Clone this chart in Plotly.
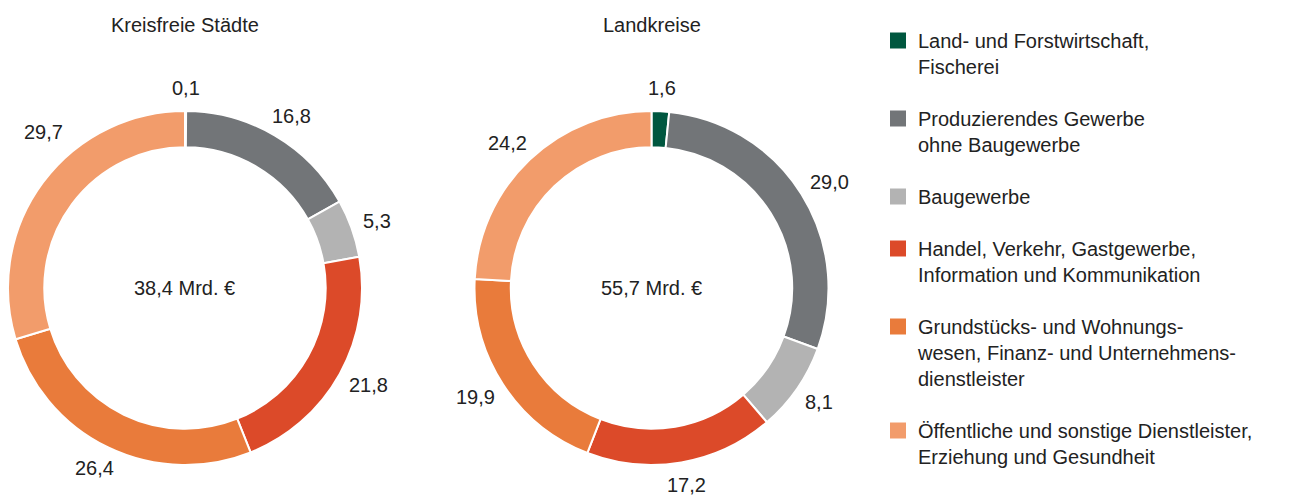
import math
import plotly.graph_objects as go

# ---- data ----
categories = [
    "Land- und Forstwirtschaft,<br>Fischerei",
    "Produzierendes Gewerbe<br>ohne Baugewerbe",
    "Baugewerbe",
    "Handel, Verkehr, Gastgewerbe,<br>Information und Kommunikation",
    "Grundstücks- und Wohnungs-<br>wesen, Finanz- und Unternehmens-<br>dienstleister",
    "Öffentliche und sonstige Dienstleister,<br>Erziehung und Gesundheit",
]
kreisfreie_staedte = [0.1, 16.8, 5.3, 21.8, 26.4, 29.7]
landkreise = [1.6, 29.0, 8.1, 17.2, 19.9, 24.2]
totals = [38.4, 55.7]
titles = ["Kreisfreie Städte", "Landkreise"]

colors = ["#00573f", "#727578", "#b3b3b3", "#dc4a29", "#e97b3b", "#f29c6b"]
text_color = "#222222"
FONT = "Liberation Sans, Arial, sans-serif"
FS = 20

# the page body has an 8px margin, so the figure is made 16px smaller
W, H = 1282, 487
# pie geometry in figure pixels (center x, center y, radius)
pies = [(177, 280, 177), (643.5, 280, 177)]
R0 = 190  # radius where label boxes touch


def fmt(v):
    return f"{v:.1f}".replace(".", ",")


def text_w(s):
    return sum(0.278 if c in ",." else 0.556 for c in s) * FS


fig = go.Figure()
annotations = []

for (cx, cy, r), vals, total, title in zip(pies, [kreisfreie_staedte, landkreise], totals, titles):
    fig.add_trace(go.Pie(
        values=vals,
        labels=categories,
        marker=dict(colors=colors, line=dict(color="white", width=2)),
        hole=0.795,
        sort=False,
        direction="clockwise",
        rotation=0,
        textinfo="none",
        showlegend=False,
        hoverinfo="label+value",
        domain=dict(x=[max(0, (cx - r) / W), min(1, (cx + r) / W)],
                    y=[max(0, 1 - (cy + r) / H), min(1, 1 - (cy - r) / H)]),
    ))
    # value labels around the ring, at each slice's mid-angle
    s = sum(vals)
    cum = 0.0
    for v in vals:
        mid = (cum + v / 2) / s * 2 * math.pi
        cum += v
        txt = fmt(v)
        hw, hh = text_w(txt) / 2, 10
        sx, sy = math.sin(mid), -math.cos(mid)
        lx = cx + R0 * sx + hw * sx
        ly = cy + R0 * sy + hh * sy
        if lx < hw + 16:  # keep labels inside the figure, slide along the ring
            lx = hw + 16
            ddx = lx + hw - cx
            ddy = math.sqrt(max(R0 ** 2 - ddx ** 2, 0))
            ly = cy + (ddy + hh) * (1 if sy > 0 else -1)
        annotations.append(dict(
            x=lx / W, y=1 - ly / H, xref="paper", yref="paper",
            text=txt, showarrow=False,
            xanchor="center", yanchor="middle",
            font=dict(size=FS, color=text_color, family=FONT)))
    # centre total
    annotations.append(dict(
        x=cx / W, y=1 - cy / H, xref="paper", yref="paper",
        text=fmt(total) + " Mrd. €", showarrow=False,
        xanchor="center", yanchor="middle",
        font=dict(size=FS, color=text_color, family=FONT)))
    # title
    annotations.append(dict(
        x=cx / W, y=1 - 17 / H, xref="paper", yref="paper",
        text=title, showarrow=False, xanchor="center", yanchor="middle",
        font=dict(size=FS, color=text_color, family=FONT)))

# legend entries (one per category)
for i, (cat, col) in enumerate(zip(categories, colors)):
    fig.add_trace(go.Scatter(
        x=[None], y=[None], mode="markers", name=cat,
        legendgroup=f"g{i}", showlegend=True,
        marker=dict(symbol="square", size=16, color=col),
    ))

fig.update_layout(
    width=W, height=H,
    margin=dict(l=0, r=0, t=0, b=0),
    paper_bgcolor="white", plot_bgcolor="white",
    annotations=annotations,
    xaxis=dict(visible=False), yaxis=dict(visible=False),
    legend=dict(
        x=870 / W, y=1 - 13 / H, xanchor="left", yanchor="top",
        font=dict(size=FS, color=text_color, family=FONT),
        tracegroupgap=23, valign="top",
        bgcolor="rgba(0,0,0,0)",
    ),
    font=dict(family=FONT, color=text_color),
)

fig.write_html("out.html")
